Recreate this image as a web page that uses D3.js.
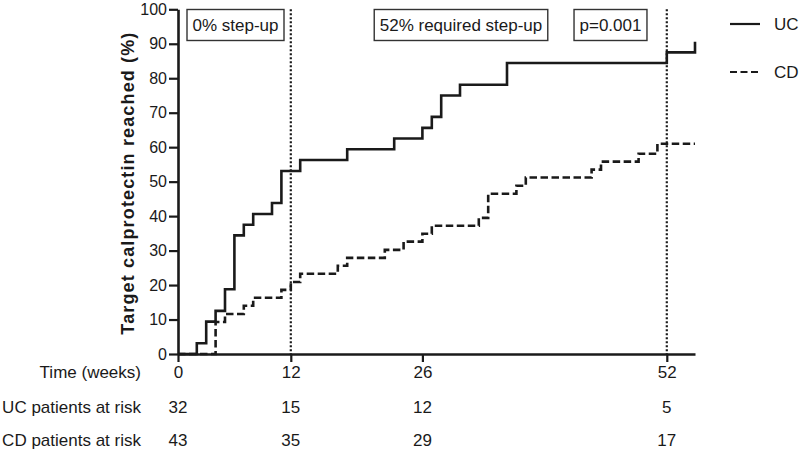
<!DOCTYPE html>
<html>
<head>
<meta charset="utf-8">
<script src="https://cdn.jsdelivr.net/npm/d3@7/dist/d3.min.js"></script>
<style>
  html, body { margin: 0; padding: 0; background: #fff; }
  svg { display: block; font-family: "Liberation Sans", Arial, Helvetica, sans-serif; }
</style>
</head>
<body>
<svg id="chart" width="800" height="451"></svg>
<script>
// ---- data ----
const ucTimes  = [0, 2, 3, 4, 5, 6, 7, 8, 10, 11, 13, 18, 23, 26, 27, 28, 30, 35, 52, 55];
const ucValues = [0, 3.1, 9.4, 12.5, 18.8, 34.4, 37.5, 40.6, 43.8, 53.1, 56.3, 59.4, 62.5, 65.6, 68.8, 75.0, 78.1, 84.4, 87.5, 90.6];

const cdTimes  = [0, 4, 5, 7, 8, 11, 12, 13, 17, 18, 22, 24, 26, 27, 32, 33, 36, 37, 44, 45, 49, 51, 55];
const cdValues = [0, 9.3, 11.6, 14.0, 16.3, 18.6, 20.9, 23.3, 25.6, 27.9, 30.2, 32.6, 34.9, 37.2, 39.5, 46.5, 48.8, 51.2, 53.5, 55.8, 58.1, 61.0, 61.0];

const yTicks = [0, 10, 20, 30, 40, 50, 60, 70, 80, 90, 100];
const timeTicks = [0, 12, 26, 52];
const ucAtRisk = [32, 15, 12, 5];
const cdAtRisk = [43, 35, 29, 17];
const markerWeeks = [12, 52];
const annotations = ["0% step-up", "52% required step-up", "p=0.001"];
const seriesNames = ["UC", "CD"];
const rowLabels = ["Time (weeks)", "UC patients at risk", "CD patients at risk"];

// ---- layout ----
const svg = d3.select("#chart");
const ink = "#1a1a1a";
const x = d3.scaleLinear().domain([0, 55]).range([178, 695]);
const y = d3.scaleLinear().domain([0, 100]).range([354, 9.3]);

// dotted markers
svg.append("g").selectAll("line").data(markerWeeks).join("line")
  .attr("x1", d => x(d)).attr("x2", d => x(d))
  .attr("y1", y(100)).attr("y2", y(0))
  .attr("stroke", ink).attr("stroke-width", 2.2)
  .attr("stroke-dasharray", "2,2");

// y axis
const yAxis = svg.append("g")
  .attr("transform", `translate(${x(0)},0)`)
  .call(d3.axisLeft(y).tickValues(yTicks).tickSize(9).tickSizeOuter(0).tickPadding(2));
yAxis.select(".domain").attr("stroke", ink).attr("stroke-width", 2.6);
yAxis.selectAll(".tick line").attr("stroke", ink).attr("stroke-width", 2.2);
yAxis.selectAll(".tick text").attr("fill", ink).style("font-size", "16px")
  .style("font-family", "'Liberation Sans', Arial, sans-serif");

// x axis (labels are the "Time (weeks)" row)
const xAxis = svg.append("g")
  .attr("transform", `translate(0,${y(0)})`)
  .call(d3.axisBottom(x).tickValues(timeTicks).tickSize(8).tickSizeOuter(0).tickPadding(4));
xAxis.select(".domain").attr("stroke", ink).attr("stroke-width", 2.6);
xAxis.selectAll(".tick line").attr("stroke", ink).attr("stroke-width", 2.2);
xAxis.selectAll(".tick text").attr("fill", ink).style("font-size", "17px")
  .style("font-family", "'Liberation Sans', Arial, sans-serif");

// curves
const line = d3.line().curve(d3.curveStepAfter).x(d => x(d[0])).y(d => y(d[1]));
const ucData = ucTimes.map((t, i) => [t, ucValues[i]]);
const cdData = cdTimes.map((t, i) => [t, cdValues[i]]);

svg.append("path").datum(ucData).attr("d", line)
  .attr("fill", "none").attr("stroke", ink).attr("stroke-width", 2.6)
  .attr("stroke-linejoin", "miter");
svg.append("path").datum(cdData).attr("d", line)
  .attr("fill", "none").attr("stroke", ink).attr("stroke-width", 2.6)
  .attr("stroke-dasharray", "7.5,3.5");

// y label
svg.append("text")
  .attr("transform", `translate(134,${(y(0) + y(100)) / 2 + 2}) rotate(-90)`)
  .attr("text-anchor", "middle")
  .attr("fill", ink)
  .attr("textLength", 302).attr("lengthAdjust", "spacing")
  .style("font-size", "18px").style("font-weight", "bold")
  .text("Target calprotectin reached (%)");

// annotation boxes
const boxCenters = [235.5, 461, 610.5];
annotations.forEach((txt, i) => {
  const g = svg.append("g");
  const t = g.append("text")
    .attr("x", boxCenters[i]).attr("y", 25)
    .attr("dy", "0.35em").attr("text-anchor", "middle")
    .attr("fill", ink).style("font-size", "17px").text(txt);
  const bb = t.node().getBBox();
  g.insert("rect", "text")
    .attr("x", bb.x - 5.5).attr("y", 9.5)
    .attr("width", bb.width + 11).attr("height", 31)
    .attr("fill", "#fff").attr("stroke", "#333").attr("stroke-width", 1.4);
});

// legend
const legendY = [24, 72];
seriesNames.forEach((name, i) => {
  svg.append("line")
    .attr("x1", 730).attr("x2", 760).attr("y1", legendY[i]).attr("y2", legendY[i])
    .attr("stroke", ink).attr("stroke-width", 2.2)
    .attr("stroke-dasharray", i === 1 ? "7,3.5" : null);
  svg.append("text")
    .attr("x", 774).attr("y", legendY[i]).attr("dy", "0.35em")
    .attr("fill", ink).style("font-size", "17px").text(name);
});

// at-risk table
const rowY = [372, 407, 440];
rowLabels.forEach((lab, i) => {
  svg.append("text")
    .attr("x", 141).attr("y", rowY[i]).attr("dy", "0.35em")
    .attr("text-anchor", "end").attr("fill", ink)
    .style("font-size", "17px").text(lab);
});
[ucAtRisk, cdAtRisk].forEach((vals, r) => {
  svg.append("g").selectAll("text").data(vals).join("text")
    .attr("x", (d, i) => x(timeTicks[i])).attr("y", rowY[r + 1]).attr("dy", "0.35em")
    .attr("text-anchor", "middle").attr("fill", ink)
    .style("font-size", "17px").text(d => d);
});
</script>
</body>
</html>
